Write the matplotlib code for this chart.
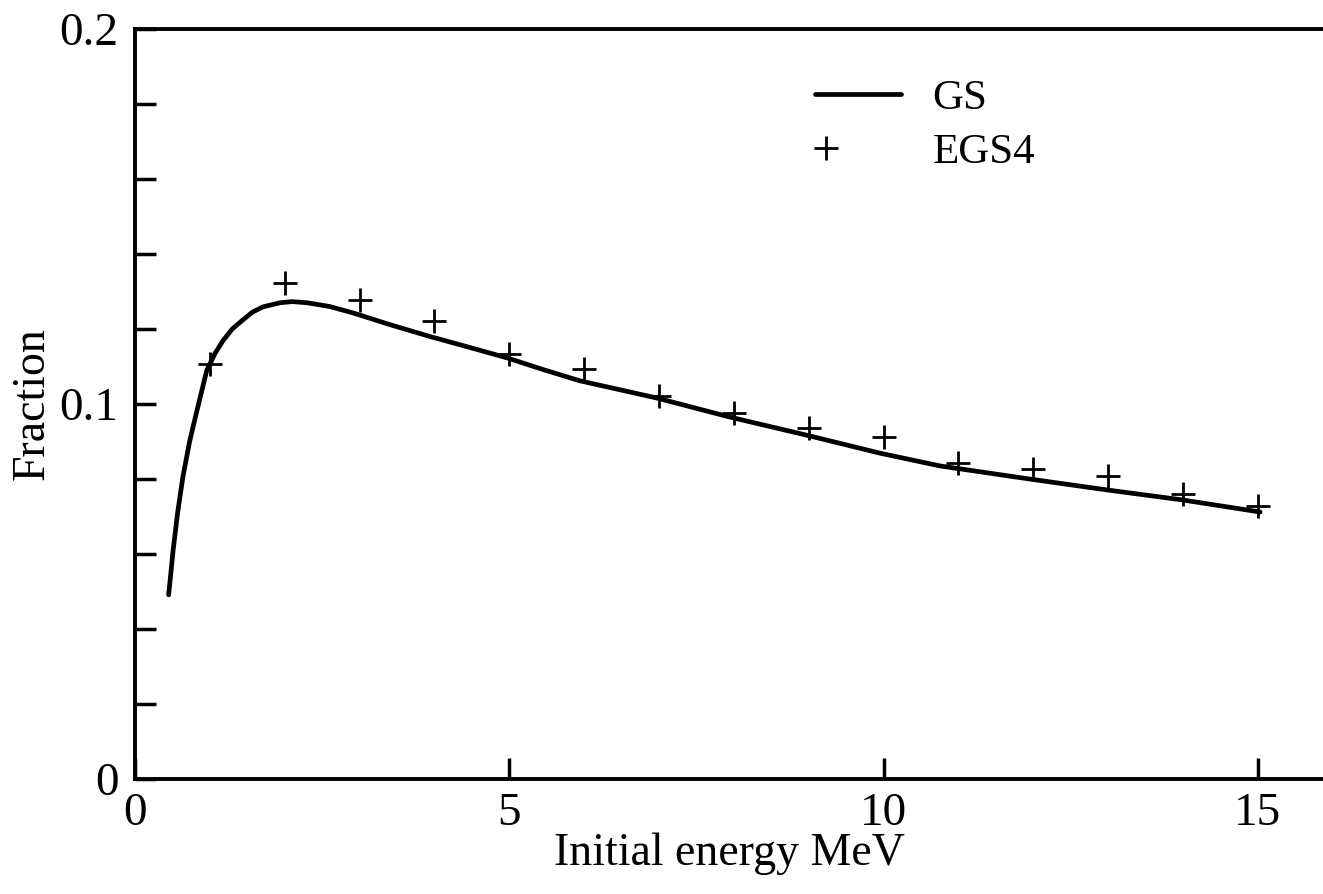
import numpy as np
import matplotlib
matplotlib.use('Agg')
import matplotlib.pyplot as plt
from matplotlib.legend_handler import HandlerLine2D

# GS curve
gs_x = [0.45, 0.48, 0.51, 0.57, 0.64, 0.73, 0.83, 0.96, 1.07, 1.18, 1.30, 1.44,
        1.57, 1.71, 1.94, 2.10, 2.30, 2.6, 2.91, 3.40, 3.94, 4.45, 4.97, 5.45,
        5.94, 6.97, 7.95, 8.97, 9.95, 10.75, 11.95, 12.98, 14.0, 15.03]
gs_y = [0.0491, 0.055, 0.061, 0.071, 0.0805, 0.090, 0.0984, 0.109, 0.1135,
        0.117, 0.120, 0.1224, 0.1245, 0.1259, 0.127, 0.1273, 0.127, 0.126,
        0.1243, 0.1212, 0.118, 0.1152, 0.1123, 0.1092, 0.1062, 0.1016, 0.0965,
        0.0917, 0.0869, 0.0835, 0.080, 0.0771, 0.0744, 0.0712]

# EGS4 points
egs_x = [1, 2, 3, 4, 5, 6, 7, 8, 9, 10, 11, 12, 13, 14, 15]
egs_y = [0.1107, 0.1323, 0.1277, 0.1221, 0.1133, 0.1093, 0.1021, 0.0976,
         0.0936, 0.0912, 0.0843, 0.0827, 0.0808, 0.076, 0.0728]

plt.rcParams['font.family'] = ['Liberation Serif', 'DejaVu Serif']


class LeftMarker(HandlerLine2D):
    # put the single marker at the left end of the handle, as in the print
    def get_xdata(self, legend, xdescent, ydescent, width, height, fontsize):
        x = -xdescent + 0.12 * width
        return np.array([x, x]), np.array([x])


fig = plt.figure(figsize=(13.23, 8.94), dpi=100)
ax = fig.add_axes([0.102, 0.1286, 0.898, 0.839])

ax.plot(gs_x, gs_y, '-', color='black', lw=3.4, label='GS',
        solid_joinstyle='round', solid_capstyle='round')
pts, = ax.plot(egs_x, egs_y, '+', color='black', ms=17, mew=2, label='EGS4')

ax.set_xlim(0, 15.87)
ax.set_ylim(0, 0.2)
ax.set_xticks([0, 5, 10, 15])
ax.set_xticklabels(['0', '5', '10', '15'])
ax.set_yticks([0, 0.1, 0.2])
ax.set_yticklabels(['0', '0.1', '0.2'])
ax.set_yticks(np.arange(0.02, 0.2, 0.02), minor=True)

ax.tick_params(direction='in', length=15, width=2.5, labelsize=34)
ax.tick_params(which='minor', direction='in', length=15, width=2.5)
ax.tick_params(axis='y', pad=12)
ax.tick_params(axis='x', pad=10)

for s in ['left', 'bottom', 'top']:
    ax.spines[s].set_linewidth(2.8)
ax.spines['right'].set_visible(False)

ax.set_xlabel('Initial energy MeV', fontsize=33, labelpad=-2)
ax.set_ylabel('Fraction', fontsize=33, labelpad=4)

ax.legend(loc='upper left', bbox_to_anchor=(0.54, 0.985), frameon=False,
          fontsize=31, handlelength=2.0, handletextpad=0.72, labelspacing=0.35,
          handler_map={pts: LeftMarker(numpoints=1)})

fig.savefig('out.png', dpi=100)
